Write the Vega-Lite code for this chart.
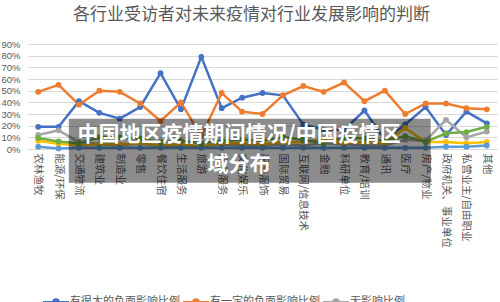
{
"$schema": "https://vega.github.io/schema/vega-lite/v6.json",
"width": 469, "height": 105,
"autosize": {"type": "none"},
"padding": {"left": 28, "top": 44, "right": 3, "bottom": 153},
"background": "white",
"config": {"font": "Noto Sans CJK SC", "view": {"stroke": null},
 "axisX": {"title": null, "labelAngle": 90, "labelFontSize": 10.5, "labelColor": "#595959", "ticks": false, "domain": true, "domainColor": "#d9d9d9", "labelPadding": 4, "grid": false, "labelOverlap": false},
 "axisY": {"title": null, "tickCount": 10, "labelExpr": "datum.value + '%'", "labelFont": "Liberation Sans", "labelFontSize": 9.5, "labelColor": "#595959", "ticks": false, "domain": false, "grid": true, "gridColor": "#d9d9d9", "labelPadding": 8, "labelOverlap": false, "labelBound": false}
},
"title": {"text": "各行业受访者对未来疫情对行业发展影响的判断", "fontSize": 17, "fontWeight": "normal", "color": "#595959", "anchor": "middle", "frame": "group", "dx": -11, "offset": 15},
"datasets": {
"d": [
{"c":"农林渔牧","s":"有很大的负面影响比例","v":19},{"c":"能源/环保","s":"有很大的负面影响比例","v":19},{"c":"交通物流","s":"有很大的负面影响比例","v":41},{"c":"建筑业","s":"有很大的负面影响比例","v":31},{"c":"制造业","s":"有很大的负面影响比例","v":26},{"c":"零售","s":"有很大的负面影响比例","v":36},{"c":"餐饮住宿","s":"有很大的负面影响比例","v":65},{"c":"生活服务","s":"有很大的负面影响比例","v":34},{"c":"旅游","s":"有很大的负面影响比例","v":79},{"c":"商业服务","s":"有很大的负面影响比例","v":35},{"c":"文化娱乐","s":"有很大的负面影响比例","v":44},{"c":"服装服饰","s":"有很大的负面影响比例","v":48},{"c":"国际贸易","s":"有很大的负面影响比例","v":46},{"c":"互联网/信息技术","s":"有很大的负面影响比例","v":21},{"c":"金融","s":"有很大的负面影响比例","v":16.5},{"c":"科研单位","s":"有很大的负面影响比例","v":16.5},{"c":"教育/培训","s":"有很大的负面影响比例","v":33},{"c":"通讯","s":"有很大的负面影响比例","v":8},{"c":"医疗","s":"有很大的负面影响比例","v":21},{"c":"房产/物业","s":"有很大的负面影响比例","v":36},{"c":"政府机关、事业单位","s":"有很大的负面影响比例","v":12},{"c":"私营业主/自由职业","s":"有很大的负面影响比例","v":32},{"c":"其他","s":"有很大的负面影响比例","v":22},
{"c":"农林渔牧","s":"有一定的负面影响比例","v":49},{"c":"能源/环保","s":"有一定的负面影响比例","v":55},{"c":"交通物流","s":"有一定的负面影响比例","v":38},{"c":"建筑业","s":"有一定的负面影响比例","v":50},{"c":"制造业","s":"有一定的负面影响比例","v":49},{"c":"零售","s":"有一定的负面影响比例","v":39},{"c":"餐饮住宿","s":"有一定的负面影响比例","v":24},{"c":"生活服务","s":"有一定的负面影响比例","v":40},{"c":"旅游","s":"有一定的负面影响比例","v":11},{"c":"商业服务","s":"有一定的负面影响比例","v":48},{"c":"文化娱乐","s":"有一定的负面影响比例","v":32},{"c":"服装服饰","s":"有一定的负面影响比例","v":30},{"c":"国际贸易","s":"有一定的负面影响比例","v":46},{"c":"互联网/信息技术","s":"有一定的负面影响比例","v":54},{"c":"金融","s":"有一定的负面影响比例","v":49},{"c":"科研单位","s":"有一定的负面影响比例","v":57},{"c":"教育/培训","s":"有一定的负面影响比例","v":41},{"c":"通讯","s":"有一定的负面影响比例","v":50},{"c":"医疗","s":"有一定的负面影响比例","v":30},{"c":"房产/物业","s":"有一定的负面影响比例","v":39},{"c":"政府机关、事业单位","s":"有一定的负面影响比例","v":39},{"c":"私营业主/自由职业","s":"有一定的负面影响比例","v":35},{"c":"其他","s":"有一定的负面影响比例","v":34},
{"c":"农林渔牧","s":"无影响比例","v":12},{"c":"能源/环保","s":"无影响比例","v":16},{"c":"交通物流","s":"无影响比例","v":6},{"c":"建筑业","s":"无影响比例","v":4},{"c":"制造业","s":"无影响比例","v":3},{"c":"零售","s":"无影响比例","v":5},{"c":"餐饮住宿","s":"无影响比例","v":2},{"c":"生活服务","s":"无影响比例","v":3},{"c":"旅游","s":"无影响比例","v":2},{"c":"商业服务","s":"无影响比例","v":4},{"c":"文化娱乐","s":"无影响比例","v":3},{"c":"服装服饰","s":"无影响比例","v":3},{"c":"国际贸易","s":"无影响比例","v":4},{"c":"互联网/信息技术","s":"无影响比例","v":3},{"c":"金融","s":"无影响比例","v":5},{"c":"科研单位","s":"无影响比例","v":4},{"c":"教育/培训","s":"无影响比例","v":3},{"c":"通讯","s":"无影响比例","v":3},{"c":"医疗","s":"无影响比例","v":8},{"c":"房产/物业","s":"无影响比例","v":7},{"c":"政府机关、事业单位","s":"无影响比例","v":25},{"c":"私营业主/自由职业","s":"无影响比例","v":10},{"c":"其他","s":"无影响比例","v":15},
{"c":"农林渔牧","s":"有一定的积极影响比例","v":7},{"c":"能源/环保","s":"有一定的积极影响比例","v":4.5},{"c":"交通物流","s":"有一定的积极影响比例","v":3},{"c":"建筑业","s":"有一定的积极影响比例","v":4},{"c":"制造业","s":"有一定的积极影响比例","v":4},{"c":"零售","s":"有一定的积极影响比例","v":5},{"c":"餐饮住宿","s":"有一定的积极影响比例","v":3},{"c":"生活服务","s":"有一定的积极影响比例","v":4},{"c":"旅游","s":"有一定的积极影响比例","v":2},{"c":"商业服务","s":"有一定的积极影响比例","v":5},{"c":"文化娱乐","s":"有一定的积极影响比例","v":5},{"c":"服装服饰","s":"有一定的积极影响比例","v":4},{"c":"国际贸易","s":"有一定的积极影响比例","v":6},{"c":"互联网/信息技术","s":"有一定的积极影响比例","v":6},{"c":"金融","s":"有一定的积极影响比例","v":8},{"c":"科研单位","s":"有一定的积极影响比例","v":5},{"c":"教育/培训","s":"有一定的积极影响比例","v":6},{"c":"通讯","s":"有一定的积极影响比例","v":5},{"c":"医疗","s":"有一定的积极影响比例","v":18},{"c":"房产/物业","s":"有一定的积极影响比例","v":6},{"c":"政府机关、事业单位","s":"有一定的积极影响比例","v":6},{"c":"私营业主/自由职业","s":"有一定的积极影响比例","v":5},{"c":"其他","s":"有一定的积极影响比例","v":6},
{"c":"农林渔牧","s":"有很大的积极影响比例","v":2},{"c":"能源/环保","s":"有很大的积极影响比例","v":0.5},{"c":"交通物流","s":"有很大的积极影响比例","v":1},{"c":"建筑业","s":"有很大的积极影响比例","v":1},{"c":"制造业","s":"有很大的积极影响比例","v":1},{"c":"零售","s":"有很大的积极影响比例","v":1},{"c":"餐饮住宿","s":"有很大的积极影响比例","v":1},{"c":"生活服务","s":"有很大的积极影响比例","v":1},{"c":"旅游","s":"有很大的积极影响比例","v":1},{"c":"商业服务","s":"有很大的积极影响比例","v":1},{"c":"文化娱乐","s":"有很大的积极影响比例","v":1},{"c":"服装服饰","s":"有很大的积极影响比例","v":1},{"c":"国际贸易","s":"有很大的积极影响比例","v":1},{"c":"互联网/信息技术","s":"有很大的积极影响比例","v":1},{"c":"金融","s":"有很大的积极影响比例","v":1},{"c":"科研单位","s":"有很大的积极影响比例","v":1},{"c":"教育/培训","s":"有很大的积极影响比例","v":1},{"c":"通讯","s":"有很大的积极影响比例","v":1},{"c":"医疗","s":"有很大的积极影响比例","v":1},{"c":"房产/物业","s":"有很大的积极影响比例","v":1},{"c":"政府机关、事业单位","s":"有很大的积极影响比例","v":2},{"c":"私营业主/自由职业","s":"有很大的积极影响比例","v":2},{"c":"其他","s":"有很大的积极影响比例","v":3},
{"c":"农林渔牧","s":"不好说比例","v":9.5},{"c":"能源/环保","s":"不好说比例","v":6.5},{"c":"交通物流","s":"不好说比例","v":5},{"c":"建筑业","s":"不好说比例","v":10},{"c":"制造业","s":"不好说比例","v":10},{"c":"零售","s":"不好说比例","v":9},{"c":"餐饮住宿","s":"不好说比例","v":6},{"c":"生活服务","s":"不好说比例","v":7},{"c":"旅游","s":"不好说比例","v":5},{"c":"商业服务","s":"不好说比例","v":7},{"c":"文化娱乐","s":"不好说比例","v":8},{"c":"服装服饰","s":"不好说比例","v":7},{"c":"国际贸易","s":"不好说比例","v":10},{"c":"互联网/信息技术","s":"不好说比例","v":8},{"c":"金融","s":"不好说比例","v":5},{"c":"科研单位","s":"不好说比例","v":10},{"c":"教育/培训","s":"不好说比例","v":9},{"c":"通讯","s":"不好说比例","v":7},{"c":"医疗","s":"不好说比例","v":11},{"c":"房产/物业","s":"不好说比例","v":6},{"c":"政府机关、事业单位","s":"不好说比例","v":13.5},{"c":"私营业主/自由职业","s":"不好说比例","v":14.5},{"c":"其他","s":"不好说比例","v":19}
],
"box": [{"c":"交通物流","c2":"房产/物业","v":26,"v2":-29}],
"cap": [{"c":"文化娱乐","t":"中国地区疫情期间情况/中国疫情区","v":11.6},{"c":"文化娱乐","t":"域分布","v":-14}]
},
"layer": [
{
"data": {"name": "d"},
"mark": {"type": "line", "strokeWidth": 2.5, "point": {"filled": true, "size": 34}},
"encoding": {
"x": {"field": "c", "type": "nominal", "bandPosition": 0.5, "sort": null, "title": null,
 "scale": {"type": "band", "paddingInner": 0, "paddingOuter": 0, "domain": ["农林渔牧","能源/环保","交通物流","建筑业","制造业","零售","餐饮住宿","生活服务","旅游","商业服务","文化娱乐","服装服饰","国际贸易","互联网/信息技术","金融","科研单位","教育/培训","通讯","医疗","房产/物业","政府机关、事业单位","私营业主/自由职业","其他"]}},
"y": {"field": "v", "type": "quantitative", "title": null,
 "scale": {"domain": [0, 90], "nice": false, "zero": true}},
"color": {"field": "s", "type": "nominal", "sort": null,
 "scale": {"domain": ["有很大的负面影响比例","有一定的负面影响比例","无影响比例","有一定的积极影响比例","有很大的积极影响比例","不好说比例"], "range": ["#4472C4","#ED7D31","#A5A5A5","#FFC000","#5B9BD5","#70AD47"]},
 "legend": {"orient": "none", "legendX": 20, "legendY": 250, "columns": 3, "direction": "horizontal", "title": null,
  "symbolType": "M-2,0L2,0M-0.4,0A0.4,0.4,0,1,1,0.4,0A0.4,0.4,0,1,1,-0.4,0Z",
  "symbolSize": 169, "symbolStrokeWidth": 2.5, "labelFontSize": 11, "labelColor": "#595959", "columnPadding": -2, "rowPadding": 1, "labelOffset": 6,
  "encode": {"symbols": {"update": {"fill": {"scale": "color", "field": "value"}, "stroke": {"scale": "color", "field": "value"}}}}}}
}
},
{
"data": {"name": "box"},
"mark": {"type": "rect", "color": "#000000", "opacity": 0.45, "clip": false},
"encoding": {
"x": {"field": "c", "type": "nominal", "bandPosition": 0, "title": null},
"x2": {"field": "c2", "bandPosition": 0.75},
"y": {"field": "v", "type": "quantitative", "title": null},
"y2": {"field": "v2"}
}
},
{
"data": {"name": "cap"},
"mark": {"type": "text", "color": "white", "fontSize": 21, "fontWeight": "bold", "align": "center", "baseline": "middle", "dx": -3},
"encoding": {
"x": {"field": "c", "type": "nominal", "bandPosition": 0.5, "title": null},
"y": {"field": "v", "type": "quantitative", "title": null},
"text": {"field": "t"}
}
}
]
}
